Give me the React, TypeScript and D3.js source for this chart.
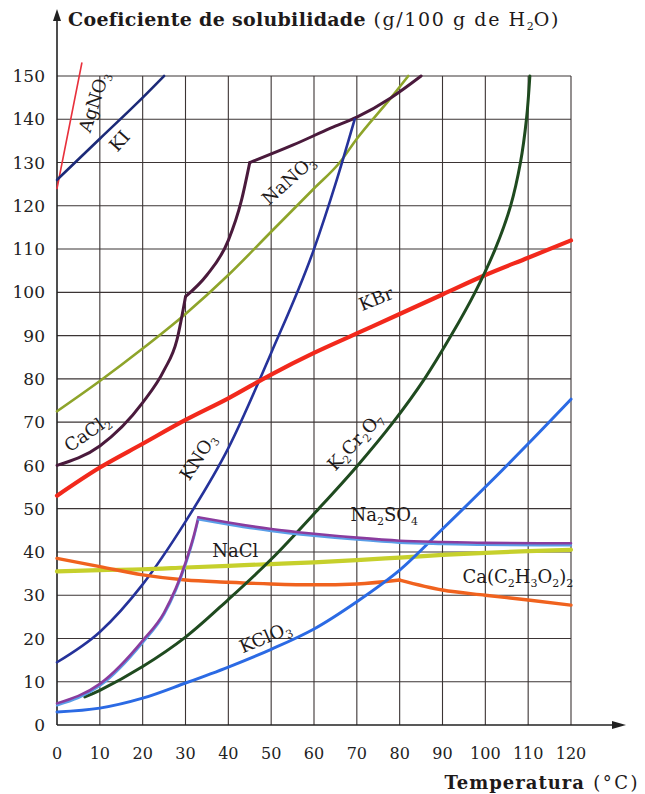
import React, { useEffect, useRef } from 'react';
import * as d3 from 'd3';

type Pt = [number, number];

// ticks
const xTicks = [0, 10, 20, 30, 40, 50, 60, 70, 80, 90, 100, 110, 120];
const yTicks = [0, 10, 20, 30, 40, 50, 60, 70, 80, 90, 100, 110, 120, 130, 140, 150];

// solubility curves (temperature °C, g / 100 g H2O)
const agNO3: Pt[] = [[0, 124], [5.8, 153]];
const kI: Pt[] = [[0, 126], [10, 135.5], [20, 145], [25, 150]];
const caCl2: Pt[] = [[0, 60], [10, 64.5], [20, 74.5], [25, 82], [28, 89], [30, 99], [35, 104], [40, 112], [43, 121], [45, 130], [55, 134], [64, 138], [70, 140.5], [78, 145], [85, 150]];
const naNO3: Pt[] = [[0, 72.5], [10, 79.5], [20, 87], [30, 95], [40, 104], [50, 114], [60, 124], [66, 130], [70, 135.5], [78, 145], [82, 150]];
const kNO3: Pt[] = [[0, 14.5], [10, 21.5], [20, 32.5], [30, 47], [40, 64], [50, 86], [60, 110], [65, 125], [69.5, 140]];
const kBr: Pt[] = [[0, 53], [10, 59.5], [20, 65], [30, 70.5], [40, 75.5], [50, 81], [60, 86], [70, 90.5], [80, 95], [90, 99.5], [100, 104], [110, 108], [120, 112]];
const k2Cr2O7: Pt[] = [[6.5, 6.5], [10, 8], [20, 13.5], [30, 20.3], [40, 29], [50, 38.3], [61.1, 50], [70.2, 60], [78.5, 70], [85.8, 80], [92, 90], [97.6, 100], [102.3, 110], [105.9, 120], [108.2, 130], [109.6, 140], [110.4, 150]];
const na2SO4: Pt[] = [[0, 5], [10, 9.5], [20, 19.5], [25, 26], [30, 37.5], [32, 44], [33, 48], [40, 46.8], [50, 45.3], [60, 44.2], [70, 43.3], [80, 42.6], [90, 42.3], [100, 42.1], [120, 42]];
const naCl: Pt[] = [[0, 35.5], [10, 35.8], [20, 36], [30, 36.4], [40, 36.8], [50, 37.2], [60, 37.6], [70, 38.1], [80, 38.7], [90, 39.3], [100, 39.8], [110, 40.2], [120, 40.5]];
const caAcetate: Pt[] = [[0, 38.5], [10, 36.6], [20, 34.7], [30, 33.5], [40, 33], [50, 32.6], [60, 32.4], [70, 32.6], [80, 33.5], [90, 31.2], [100, 30], [110, 28.9], [120, 27.7]];
const kClO3: Pt[] = [[0, 3], [10, 3.9], [20, 6.2], [30, 9.7], [40, 13.4], [50, 17.5], [60, 22.2], [70, 28.5], [80, 35.8], [90, 45.3], [100, 55], [110, 65], [120, 75.3]];

const series = [
  { data: agNO3, color: '#e8303c', width: 1.6, knees: [] as number[], smooth: false },
  { data: kI, color: '#1c2a78', width: 2.6, knees: [], smooth: false },
  { data: naNO3, color: '#8ea42a', width: 2.6, knees: [], smooth: false },
  { data: caCl2, color: '#4a1a3c', width: 3, knees: [30, 45], smooth: false },
  { data: kNO3, color: '#25329a', width: 2.6, knees: [], smooth: false },
  { data: kBr, color: '#f2291c', width: 4.2, knees: [], smooth: false },
  { data: naCl, color: '#c6d02c', width: 4.2, knees: [], smooth: false },
  { data: caAcetate, color: '#f0621e', width: 3.4, knees: [80], smooth: false },
  { data: k2Cr2O7, color: '#1f4a1f', width: 3, knees: [], smooth: true },
  { data: kClO3, color: '#2b6ae4', width: 3, knees: [], smooth: true },
];

// labels: parts [text, isSub], position in data units, rotation
const labels = [
  { parts: [['AgNO', false], ['3', true]], t: 8.6, v: 144, angle: -72 },
  { parts: [['KI', false]], t: 14.6, v: 135, angle: -48 },
  { parts: [['NaNO', false], ['3', true]], t: 54, v: 126, angle: -42 },
  { parts: [['CaCl', false], ['2', true]], t: 7, v: 67.5, angle: -35 },
  { parts: [['KNO', false], ['3', true]], t: 32.9, v: 62, angle: -57 },
  { parts: [['K', false], ['2', true], ['Cr', false], ['2', true], ['O', false], ['7', true]], t: 69.6, v: 65.6, angle: -47 },
  { parts: [['KBr', false]], t: 74.5, v: 98.5, angle: -22 },
  { parts: [['KClO', false], ['3', true]], t: 48.6, v: 20.3, angle: -23 },
  { parts: [['Na', false], ['2', true], ['SO', false], ['4', true]], t: 76.4, v: 48.5, angle: 0 },
  { parts: [['NaCl', false]], t: 41.6, v: 40.2, angle: 0 },
  { parts: [['Ca(C', false], ['2', true], ['H', false], ['3', true], ['O', false], ['2', true], [')', false], ['2', true]], t: 107.6, v: 34.2, angle: 0 },
];

const FONT = "'DejaVu Serif', serif";

function splitAt(data: Pt[], knees: number[]): Pt[][] {
  const out: Pt[][] = [];
  let cur: Pt[] = [];
  data.forEach(p => {
    cur.push(p);
    if (knees.includes(p[0])) { out.push(cur); cur = [p]; }
  });
  if (cur.length > 1) out.push(cur);
  return out;
}

export default function App() {
  const svgRef = useRef<SVGSVGElement>(null);

  useEffect(() => {
    const svg = d3.select(svgRef.current);
    svg.selectAll('*').remove();

    const x = d3.scaleLinear().domain([0, 120]).range([57, 571]);
    const y = d3.scaleLinear().domain([0, 150]).range([725, 76]);

    // grid
    const grid = svg.append('g').attr('stroke', '#3b3434').attr('stroke-width', 1.1);
    xTicks.slice(1).forEach(t => {
      grid.append('line').attr('x1', x(t)).attr('x2', x(t)).attr('y1', y(0)).attr('y2', y(150));
    });
    yTicks.slice(1).forEach(v => {
      grid.append('line').attr('x1', x(0)).attr('x2', x(120)).attr('y1', y(v)).attr('y2', y(v));
    });

    // axes
    svg.append('line').attr('x1', x(0)).attr('x2', x(0)).attr('y1', y(0)).attr('y2', 18)
      .attr('stroke', '#222').attr('stroke-width', 1.6);
    svg.append('path').attr('d', `M${x(0)},9 L${x(0) - 4},21 L${x(0) + 4},21 Z`).attr('fill', '#222');
    svg.append('line').attr('x1', x(0)).attr('x2', 616).attr('y1', y(0)).attr('y2', y(0))
      .attr('stroke', '#222').attr('stroke-width', 1.6);
    svg.append('path').attr('d', `M626,${y(0)} L612,${y(0) - 4} L612,${y(0) + 4} Z`).attr('fill', '#222');

    // tick labels
    svg.append('g').selectAll('text').data(yTicks).enter().append('text')
      .attr('x', 45).attr('y', d => y(d)).attr('dy', '0.36em')
      .attr('text-anchor', 'end').attr('font-family', FONT).attr('font-size', 17).attr('fill', '#222')
      .text(d => d);
    svg.append('g').selectAll('text').data(xTicks).enter().append('text')
      .attr('x', d => x(d)).attr('y', 759)
      .attr('text-anchor', 'middle').attr('font-family', FONT).attr('font-size', 16).attr('fill', '#222')
      .text(d => d);

    // curves
    const line = d3.line<Pt>().x(d => x(d[0])).y(d => y(d[1])).curve(d3.curveMonotoneX);
    const lineS = d3.line<Pt>().x(d => x(d[0])).y(d => y(d[1])).curve(d3.curveCatmullRom.alpha(0.5));
    const g = svg.append('g').attr('fill', 'none').attr('stroke-linecap', 'round').attr('stroke-linejoin', 'round');

    series.forEach(s => {
      splitAt(s.data, s.knees).forEach(seg => {
        g.append('path').attr('d', (s.smooth ? lineS : line)(seg)).attr('stroke', s.color).attr('stroke-width', s.width);
      });
    });

    // Na2SO4: light blue under purple/magenta
    splitAt(na2SO4, [33]).forEach(seg => {
      g.append('path').attr('d', line(seg)).attr('stroke', '#5a9ee8').attr('stroke-width', 2.4)
        .attr('transform', 'translate(0,2)');
      g.append('path').attr('d', line(seg)).attr('stroke', '#8a3c9e').attr('stroke-width', 2.6);
    });

    // labels
    labels.forEach(l => {
      const txt = svg.append('text')
        .attr('transform', `translate(${x(l.t)},${y(l.v)}) rotate(${l.angle})`)
        .attr('text-anchor', 'middle').attr('dy', '0.35em')
        .attr('font-family', FONT).attr('font-size', 18).attr('fill', '#1e1a1a');
      let sub = false;
      l.parts.forEach(([s, isSub]) => {
        const ts = txt.append('tspan').text(s as string);
        if (isSub && !sub) { ts.attr('dy', 4).attr('font-size', 11); sub = true; }
        else if (isSub) { ts.attr('font-size', 11); }
        else if (sub) { ts.attr('dy', -4); sub = false; }
      });
    });

    // titles
    const title = svg.append('text').attr('x', 68).attr('y', 26)
      .attr('font-family', FONT).attr('font-size', 19).attr('fill', '#1e1a1a');
    title.append('tspan').attr('font-weight', 'bold').attr('letter-spacing', 0.3).text('Coeficiente de solubilidade');
    title.append('tspan').attr('letter-spacing', 1.6).text(' (g/100 g de H');
    title.append('tspan').attr('font-size', 11).attr('dy', 4).text('2');
    title.append('tspan').attr('dy', -4).attr('letter-spacing', 1.6).text('O)');

    const xt = svg.append('text').attr('x', 640).attr('y', 789).attr('text-anchor', 'end')
      .attr('font-family', FONT).attr('font-size', 18).attr('fill', '#1e1a1a');
    xt.append('tspan').attr('font-weight', 'bold').attr('letter-spacing', 1).text('Temperatura');
    xt.append('tspan').attr('letter-spacing', 2.5).text(' (°C)');
  }, []);

  return (
    <div>
      <svg ref={svgRef} width={645} height={794}
        style={{ position: 'absolute', left: 0, top: 0, background: '#fff' }} />
    </div>
  );
}
